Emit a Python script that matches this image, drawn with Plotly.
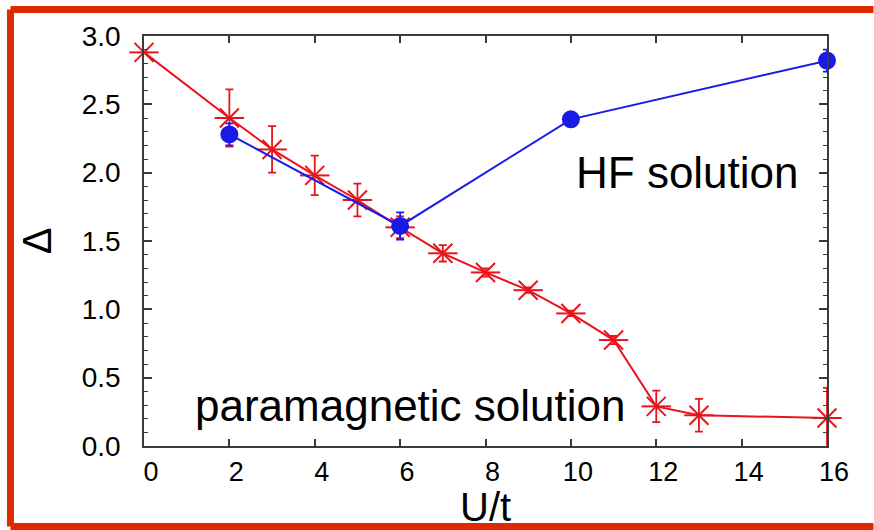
import plotly.graph_objects as go

# ---- data ----
U_para = [0, 2, 3, 4, 5, 6, 7, 8, 9, 10, 11, 12, 13, 16]
gap_para = [2.88, 2.40, 2.17, 1.98, 1.80, 1.60, 1.41, 1.27, 1.14, 0.97, 0.775, 0.29, 0.225, 0.205]
err_para = [0.0, 0.21, 0.17, 0.145, 0.12, 0.08, 0.06, 0.03, 0.02, 0.02, 0.03, 0.115, 0.12, 0.22]

U_hf = [2, 6, 10, 16]
gap_hf = [2.28, 1.61, 2.39, 2.82]
err_hf = [0.08, 0.10, 0.03, 0.08]

x_ticks = [0, 2, 4, 6, 8, 10, 12, 14, 16]
x_ticklabels = ["0", "2", "4", "6", "8", "10", "12", "14", "16"]
y_ticks = [0.0, 0.5, 1.0, 1.5, 2.0, 2.5, 3.0]
y_ticklabels = ["0.0", "0.5", "1.0", "1.5", "2.0", "2.5", "3.0"]

RED = "#e8141c"
BLUE = "#1a1ae8"
FRAME = "#dd2a00"
AXIS = "#3a3a3a"
FONT = "Liberation Sans, Arial, Helvetica, sans-serif"

fig = go.Figure()

# paramagnetic solution: line, x-arms and error bars
fig.add_trace(go.Scatter(
    x=U_para, y=gap_para, mode="lines+markers",
    line=dict(color=RED, width=2),
    marker=dict(symbol="x-thin-open", size=19, color=RED, line=dict(color=RED, width=2)),
    error_y=dict(type="data", array=err_para, visible=True, color=RED, thickness=1.8, width=4),
    cliponaxis=False, showlegend=False, name="paramagnetic solution",
))
# horizontal arm of the 6-arm asterisk
fig.add_trace(go.Scatter(
    x=U_para, y=gap_para, mode="markers",
    marker=dict(symbol="line-ew-open", size=21, color=RED, line=dict(color=RED, width=2)),
    cliponaxis=False, showlegend=False, hoverinfo="skip",
))

# HF solution
fig.add_trace(go.Scatter(
    x=U_hf, y=gap_hf, mode="lines+markers",
    line=dict(color=BLUE, width=2),
    marker=dict(symbol="circle", size=18, color=BLUE),
    error_y=dict(type="data", array=err_hf, visible=True, color=BLUE, thickness=1.8, width=4),
    cliponaxis=False, showlegend=False, name="HF solution",
))

fig.add_annotation(x=12.73, y=2.0, xref="x", yref="y", text="HF solution",
                   showarrow=False, xanchor="center", yanchor="middle",
                   font=dict(family=FONT, size=44, color="black"))
fig.add_annotation(x=6.23, y=0.30, xref="x", yref="y", text="paramagnetic solution",
                   showarrow=False, xanchor="center", yanchor="middle",
                   font=dict(family=FONT, size=44, color="black"))
# x-axis title
fig.add_annotation(x=0.5, y=-0.150, xref="paper", yref="paper", text="U/t",
                   showarrow=False, xanchor="center", yanchor="middle",
                   font=dict(family=FONT, size=40, color="black"))

# red outer frame: top, left and bottom sides, ending at the picture's right edge
frame_sides = [(-0.1955, 1.0646, 1.068, 1.0646),
               (-0.1955, -0.1963, -0.1955, 1.0646),
               (-0.1955, -0.1963, 1.068, -0.1963)]
for x0, y0, x1, y1 in frame_sides:
    fig.add_shape(type="line", xref="paper", yref="paper", x0=x0, y0=y0, x1=x1, y1=y1,
                  line=dict(color=FRAME, width=7), layer="above")

fig.update_xaxes(
    range=[0, 16], tickvals=x_ticks, ticktext=x_ticklabels,
    ticks="inside", ticklen=7, tickwidth=1.5, tickcolor=AXIS,
    showline=True, linecolor=AXIS, linewidth=1.5, mirror="ticks",
    showgrid=False, zeroline=False,
    tickfont=dict(family=FONT, size=27, color="black"),
    ticklabelshift=7, ticklabelstandoff=1,
)
fig.update_yaxes(
    range=[0, 3], tickvals=y_ticks, ticktext=y_ticklabels,
    ticks="inside", ticklen=8, tickwidth=1.5, tickcolor=AXIS,
    minor=dict(dtick=0.1, ticks="inside", ticklen=4, tickwidth=1.2, tickcolor=AXIS, showgrid=False),
    showline=True, linecolor=AXIS, linewidth=1.5, mirror="ticks",
    showgrid=False, zeroline=False,
    tickfont=dict(family=FONT, size=28, color="black"),
    ticklabelstandoff=16,
    title=dict(text="Δ", font=dict(family=FONT, size=40, color="black"), standoff=18),
)

fig.update_layout(
    width=874, height=530,
    margin=dict(l=144, r=47, t=36, b=84, autoexpand=False),
    paper_bgcolor="white", plot_bgcolor="white",
    showlegend=False,
)

fig.write_html("out.html", config={"displayModeBar": False},
               post_script="document.body.style.margin='0px';")
